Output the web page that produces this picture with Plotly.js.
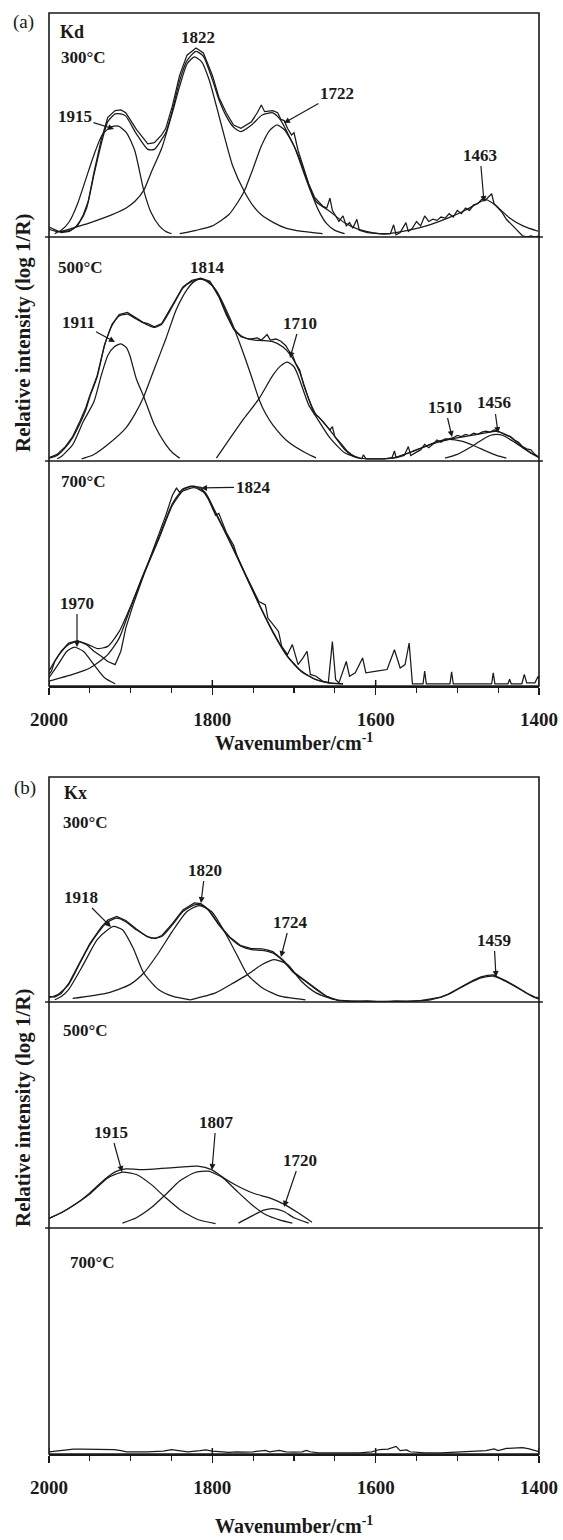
<!DOCTYPE html>
<html><head><meta charset="utf-8">
<script src="https://cdn.plot.ly/plotly-3.0.1.min.js"></script>
<style>html,body{margin:0;padding:0;background:#fff}</style>
</head><body><div id="chart" style="width:563px;height:1540px"></div>
<script>
// ---------- tick labels ----------
const tickVals = [2000, 1800, 1600, 1400];
const tickText = ['2000', '1800', '1600', '1400'];

// ---------- (a) Kd 300 °C ----------
const kd300MeasWn = [2000,1993,1985,1975,1965,1958,1952,1945,1936,1928,
 1919,1912,1906,1893,1879,1871,1862,1857,1849,1840,
 1831,1820,1811,1800,1792,1783,1774,1765,1752,1745,
 1740,1736,1726,1720,1716,1712,1708,1703,1700,1695,
 1688,1682,1675,1670,1665,1660,1656,1653,1648,1645,
 1640,1636,1632,1628,1623,1620,1610,1600,1590,1582,
 1578,1575,1570,1563,1560,1555,1550,1545,1540,1535,
 1530,1525,1520,1515,1510,1505,1500,1495,1490,1485,
 1480,1475,1470,1466,1462,1458,1455,1450,1445,1440,
 1432,1425,1420,1415,1410,1405,1400];
const kd300Meas = [3.5,2.5,1,1.5,4,9,15,28,43,53,
 56,56.3,55,47.5,41,41.5,45,48,58,72,
 81,84.2,82,72,62,55,49.5,48,51,55,
 58.5,55.5,56,55,52,51.5,48,45,46,38,
 30,23,17,15,13,12,16.5,11,8,6,
 8.5,4,5.5,3,7,2,1,0.5,0.3,0.5,
 4.5,0,1,5.5,1.5,3,6,4,8.5,6,
 7,6.5,8,7.5,9.5,8,11,9.5,12,11,
 13.5,14,16,15.5,17,18.5,14,12,10,7,
 4,1,-0.5,-1,-0.5,-1,-0.5];
const kd300FitWn = [2000,1990,1980,1971,1962,1954,1945,1936,1928,1919,
 1912,1906,1893,1879,1871,1862,1857,1849,1840,1831,
 1820,1811,1800,1792,1783,1774,1765,1752,1739,1726,
 1717,1708,1695,1682,1673,1656,1638,1621,1603,1586,
 1577,1555,1533,1511,1489,1471,1465,1454,1436,1419,
 1401];
const kd300Fit = [2.5,1.5,1.5,2.5,6,12,27,41,51,54.5,
 54.5,53.5,45.5,38.5,38.5,43,46,56,69.5,78.5,
 82.7,80.5,70,61,53.5,48.5,46.5,49.5,54,55,
 52,46,36,22.5,15,10.5,5.4,2.4,0.9,0.5,
 0.9,2.4,4.6,7.6,11.3,15,15.8,13.5,7.6,3.9,
 1.6];
const kd300P1915Wn = [1993,1985,1975,1965,1955,1945,1935,1925,1915,1905,1895,1884,1875,1865,1857,1850];
const kd300P1915 = [0.5,2,6,14,25,36,45,48.5,49,46,38,20,10,4,1.5,0.5];
const kd300P1822Wn = [1985,1971,1950,1928,1906,1895,1884,1875,1862,1849,
 1840,1831,1822,1813,1804,1795,1785,1775,1761,1750,
 1740,1725,1710,1690,1665];
const kd300P1822 = [1.5,3,5.4,8.3,12,15,20,28,39,55,
 67,77,80.2,78,70,58,44,31,19.6,13,
 9,5.5,3,1.5,0.5];
const kd300P1722Wn = [1840,1820,1800,1780,1770,1761,1750,1740,1730,1721,1712,1700,1690,1680,1670,1660,1650,1638];
const kd300P1722 = [0.5,2,4,9,14,19.6,30,40,47,49.5,47.5,40,30,20,11,5,2,0.5];

// ---------- (a) Kd 500 °C ----------
const kd500MeasWn = [2000,1990,1980,1971,1962,1955,1950,1941,1932,1923,
 1914,1904,1893,1885,1879,1871,1862,1853,1844,1836,
 1825,1814,1803,1792,1783,1774,1765,1755,1745,1740,
 1733,1729,1722,1716,1710,1706,1702,1698,1693,1688,
 1684,1680,1675,1670,1665,1660,1656,1653,1650,1645,
 1640,1635,1630,1625,1617,1615,1612,1600,1590,1580,
 1577,1575,1565,1560,1557,1550,1545,1540,1535,1530,
 1525,1520,1515,1510,1505,1500,1495,1490,1485,1480,
 1475,1470,1465,1460,1455,1450,1445,1440,1435,1430,
 1425,1420,1415,1410,1405,1400];
const kd500Meas = [0.5,2,5.5,10,17,23,28.5,37.5,51.5,60.5,
 65,66,63.5,61.5,61,59.5,61,66.5,72.5,77.5,
 80.5,81.5,80,73,65,58.5,55,54,54.5,53.5,
 56,53.5,54,53,51,48.5,47,43,40,33,
 29,25,20,19,17,15,13,14.5,10,8,
 5.5,3.5,2,1,0,1.8,0,0,0,0.5,
 3.5,0.5,1.5,5.5,1.5,3,4,6.5,5,6.5,
 8.5,7.5,9,9,9.5,10.5,10,11,10.5,11.5,
 11,12,12.5,12,13,12.5,11.5,10.5,10,8.5,
 7.5,5.5,4.5,4,2,0.5];
const kd500FitWn = [2000,1990,1980,1971,1962,1955,1950,1941,1932,1923,
 1914,1904,1893,1879,1871,1862,1853,1844,1836,1825,
 1814,1803,1792,1783,1774,1765,1752,1739,1726,1713,
 1704,1693,1682,1673,1665,1652,1638,1625,1610,1590,
 1577,1555,1533,1511,1489,1467,1452,1436,1419,1401];
const kd500Fit = [0.3,1.5,5,9.5,16,22,28,37,51,60,
 64.4,65.2,63,60.3,59.2,60.7,66,72,77,80,
 81,79.6,73.4,66,59,55.5,53.7,53.3,52.8,50.3,
 46.6,39,27,20,17,11,4.2,0.7,0,0,
 0.4,3.4,6.4,8.6,10.1,11.6,12.4,10.1,4.9,0.7];
const kd500P1911Wn = [1990,1985,1971,1958,1945,1936,1928,1920,1912,1905,1901,1893,1884,1871,1857,1848,1840];
const kd500P1911 = [0,1,6.4,16.8,25.7,37.6,46.6,50.5,51.8,50,46.6,36,28,15.3,6.4,2.5,0.3];
const kd500P1814Wn = [1960,1956,1945,1928,1906,1895,1884,1871,1857,1844,
 1831,1822,1814,1805,1796,1778,1761,1752,1743,1735,
 1726,1708,1686,1673];
const kd500P1814 = [0,0.4,1.9,6.4,13.8,20,28,40.6,54,67.4,
 76.3,80,81,79.5,76.3,63,46.6,37,27,20.5,
 15.3,7.9,2.7,0.4];
const kd500P1710Wn = [1795,1778,1761,1743,1726,1716,1708,1700,1695,1682,1673,1656,1638,1621];
const kd500P1710 = [0.3,9.4,18.3,27,37.6,42,43.6,41.5,37.6,24.3,19,9.4,2.7,0.4];
const kd500P1510Wn = [1580,1560,1540,1525,1510,1495,1480,1465,1452,1440];
const kd500P1510 = [0.2,2.5,5.5,7.8,8.8,8,6,3.5,1.5,0.3];
const kd500P1456Wn = [1515,1500,1485,1470,1460,1452,1444,1430,1420,1410,1400];
const kd500P1456 = [0.3,2,5,8.5,10.5,11,10.5,7.5,5,2.5,0.8];

// ---------- (a) Kd 700 °C ----------
const kd700MeasWn = [2000,1997,1993,1985,1976,1965,1954,1945,1936,1928,
 1919,1912,1906,1897,1884,1875,1866,1857,1849,1844,
 1840,1836,1827,1814,1805,1796,1792,1783,1774,1770,
 1761,1752,1743,1735,1732,1726,1719,1715,1708,1702,
 1695,1689,1684,1680,1673,1665,1658,1653,1649,1645,
 1636,1632,1625,1616,1612,1599,1586,1577,1570,1564,
 1559,1555,1542,1540,1538,1509,1507,1505,1458,1456,
 1454,1438,1436,1434,1421,1418,1415,1405,1401,1400];
const kd700Meas = [4.2,5.7,10,14.6,18.3,19.3,17.6,14.6,12.4,10,
 8.6,14.6,25,35.4,48.8,57.7,67.4,75.6,84.5,87.8,
 86,87.5,88.7,88.2,83,75.6,76.5,68,62.2,57.7,
 50.3,43.6,36.9,35.4,29.5,26.8,23.5,16.8,13.1,17.6,
 8.6,11.6,14.6,4.2,3.4,1.2,0.4,19,1.8,0.4,
 10,3.4,4.9,11.6,4.9,5.7,6.4,15.3,7.1,8.6,
 18.3,0,0,5.7,0,0,5.4,0,0,4.9,
 0,0,2,0,0,4.2,0.4,0.4,3.4,2];
const kd700FitWn = [2000,1989,1976,1965,1952,1941,1928,1914,1901,1884,
 1866,1849,1836,1822,1809,1796,1778,1761,1743,1726,
 1708,1691,1673,1656,1640];
const kd700Fit = [5.7,12.4,17.6,19,17.6,15.8,16.8,23.5,34,49.6,
 65.2,80.8,87.2,88.7,86,77,63.7,50.3,36,23.5,
 12.4,5.7,1.9,0.4,0];
const kd700P1970Wn = [2000,1989,1978,1969,1958,1945,1932,1919];
const kd700P1970 = [2.7,8.6,14.6,16.4,14.6,8.6,2.7,0];
const kd700P1824Wn = [2000,1971,1950,1928,1914,1901,1884,1866,1849,1836,
 1822,1809,1796,1778,1761,1743,1726,1708,1691,1673,
 1656,1640];
const kd700P1824 = [1.2,4.2,7.1,13.1,20.5,33.2,49,64.5,80,86.5,
 88,85.5,76.5,63.2,50,35.7,23.2,12.2,5.5,1.8,
 0.3,0];

// ---------- (b) Kx 300 °C ----------
const kx300MeasWn = [2000,1993,1985,1976,1963,1950,1936,1928,1917,1906,
 1893,1880,1870,1862,1849,1836,1822,1814,1805,1792,
 1778,1765,1752,1745,1739,1732,1726,1713,1700,1686,
 1673,1660,1647,1630,1610,1590,1575,1560,1545,1533,
 1520,1511,1500,1489,1480,1471,1463,1456,1448,1441,
 1430,1423,1412,1405,1400];
const kx300Meas = [1.5,1.2,2.8,7.2,16.3,25.2,32.6,35.8,37.4,35.6,
 31.8,28.3,27.5,28.8,34.2,40.3,43.5,43.2,40.7,33.8,
 27.9,24.3,23,22.8,22.9,22.3,21.6,17.8,12.3,8.5,
 4.8,1.5,-0.3,-0.8,-0.5,-1,-0.6,-0.8,-0.4,0.3,
 1.2,2.6,4.8,7.2,8.8,10.3,11,11.2,10,8.6,
 6.4,4.8,2.4,1.2,0.8];
const kx300FitWn = [2000,1989,1976,1963,1950,1936,1928,1917,1906,1893,
 1875,1862,1849,1836,1822,1814,1805,1792,1778,1765,
 1752,1739,1726,1713,1700,1686,1673,1660,1647,1621,
 1577,1533,1511,1489,1471,1456,1441,1423,1405,1400];
const kx300Fit = [0.9,2.4,6.8,15.8,24.7,32,35,36.6,35,31.4,
 27.7,28.4,33.6,39.6,42.6,42.6,40.3,33.6,27.7,24,
 22.5,22.2,21,17.3,12,8.3,4.6,1.6,0,-0.6,
 -0.6,0,2.4,6.8,9.8,10.6,8.3,4.6,0.9,0.3];
const kx300P1918Wn = [1993,1985,1976,1958,1941,1928,1921,1910,1897,1884,1866,1849,1827];
const kx300P1918 = [0,1.5,4.6,15.8,27,31.4,32.9,31.4,23.2,12,4.6,1.6,0];
const kx300P1820Wn = [1971,1928,1901,1884,1866,1849,1831,1816,1801,1783,1770,1757,1739,1717,1686];
const kx300P1820 = [0.6,3.1,6.8,12,21,30.7,39.6,42.3,39.6,29.2,20.2,11.3,5.4,1.6,0];
const kx300P1724Wn = [1827,1796,1774,1757,1739,1724,1708,1691,1673,1651];
const kx300P1724 = [0,3.1,7.6,11.3,15.8,18,15.8,8.3,3.1,0];

// ---------- (b) Kx 500 °C ----------
const kx500FitWn = [2000,1985,1967,1950,1932,1919,1906,1884,1862,1840,
 1818,1801,1783,1765,1748,1730,1713,1695,1678];
const kx500Fit = [3.3,5.8,9.8,14.7,20.7,24.1,25.4,25.1,25.6,26.2,
 26.6,25.1,20.7,17,14.3,12.5,9.8,5.8,1.6];
const kx500P1915Wn = [2000,1985,1967,1950,1928,1910,1893,1875,1857,1840,1818,1796];
const kx500P1915 = [3.3,5.8,9.8,14.2,21.4,24,22.9,18.5,12.5,7.3,2.8,1];
const kx500P1807Wn = [1910,1893,1875,1857,1840,1822,1805,1787,1770,1752,1735,1717,1702];
const kx500P1807 = [1.2,3.6,8,14,20,23.7,24.4,21.4,15.5,9.5,5,2.5,1.2];
const kx500P1720Wn = [1768,1752,1737,1726,1713,1700,1682];
const kx500P1720 = [1.2,4.3,7,7.7,6.5,3.6,1.2];

// ---------- (b) Kx 700 °C ----------
const kx700MeasWn = [2000,1990,1980,1970,1960,1950,1940,1930,1920,1912,
 1905,1880,1860,1850,1845,1840,1830,1815,1808,1800,
 1790,1780,1770,1760,1750,1735,1730,1718,1710,1700,
 1690,1685,1680,1670,1650,1620,1605,1595,1585,1575,
 1570,1562,1558,1550,1540,1520,1500,1480,1465,1455,
 1450,1440,1430,1420,1412,1405,1400];
const kx700Meas = [0,0.5,1,1.2,1.2,1.2,1.2,1.1,1,0.5,
 0,0,0.3,1,0.8,0.5,0,0.5,0.8,0.3,
 0,-0.3,0,-0.2,0,0.6,0,0.6,0,-0.2,
 0,0.6,0,-0.5,-0.5,-0.5,0,1,1.2,2.4,
 0.5,0.8,0,-0.3,-0.5,-0.5,-0.2,0,0.5,1.3,
 0.5,1.5,1.6,1.8,1.3,0.5,0];

// ---------- layout helpers (pixel geometry) ----------
const L = 49, R = 539, T = 13, B = 1454;
const fx = p => (p - L) / (R - L);
const fy = p => (B - p) / (B - T);
const FONT = 'Liberation Serif, Times New Roman, serif';
const INK = '#1a1a1a';

function tr(x, y, xa, ya, smooth) {
  const line = {color: INK, width: 1.25};
  if (smooth) { line.shape = 'spline'; line.smoothing = 0.6; }
  return {x: x, y: y, xaxis: xa, yaxis: ya, type: 'scatter', mode: 'lines',
          line: line, hoverinfo: 'skip', showlegend: false};
}

const data = [
  tr(kd300MeasWn, kd300Meas, 'x', 'y', false),
  tr(kd300FitWn, kd300Fit, 'x', 'y', true),
  tr(kd300P1915Wn, kd300P1915, 'x', 'y', true),
  tr(kd300P1822Wn, kd300P1822, 'x', 'y', true),
  tr(kd300P1722Wn, kd300P1722, 'x', 'y', true),

  tr(kd500MeasWn, kd500Meas, 'x', 'y2', false),
  tr(kd500FitWn, kd500Fit, 'x', 'y2', true),
  tr(kd500P1911Wn, kd500P1911, 'x', 'y2', true),
  tr(kd500P1814Wn, kd500P1814, 'x', 'y2', true),
  tr(kd500P1710Wn, kd500P1710, 'x', 'y2', true),
  tr(kd500P1510Wn, kd500P1510, 'x', 'y2', true),
  tr(kd500P1456Wn, kd500P1456, 'x', 'y2', true),

  tr(kd700MeasWn, kd700Meas, 'x', 'y3', false),
  tr(kd700FitWn, kd700Fit, 'x', 'y3', true),
  tr(kd700P1970Wn, kd700P1970, 'x', 'y3', true),
  tr(kd700P1824Wn, kd700P1824, 'x', 'y3', true),

  tr(kx300MeasWn, kx300Meas, 'x2', 'y4', false),
  tr(kx300FitWn, kx300Fit, 'x2', 'y4', true),
  tr(kx300P1918Wn, kx300P1918, 'x2', 'y4', true),
  tr(kx300P1820Wn, kx300P1820, 'x2', 'y4', true),
  tr(kx300P1724Wn, kx300P1724, 'x2', 'y4', true),

  tr(kx500FitWn, kx500Fit, 'x2', 'y5', true),
  tr(kx500P1915Wn, kx500P1915, 'x2', 'y5', true),
  tr(kx500P1807Wn, kx500P1807, 'x2', 'y5', true),
  tr(kx500P1720Wn, kx500P1720, 'x2', 'y5', true),

  tr(kx700MeasWn, kx700Meas, 'x2', 'y6', false)
];

function xAxis(anchor) {
  return {
    domain: [0, 1], range: [2000, 1400], anchor: anchor,
    showline: true, linecolor: INK, linewidth: 1.6,
    showgrid: false, zeroline: false,
    ticks: 'outside', ticklen: 7, tickwidth: 1.5, tickcolor: INK,
    tickmode: 'array', tickvals: tickVals, ticktext: tickText,
    minor: {ticks: 'outside', ticklen: 5, tickwidth: 1.3, tickcolor: INK, dtick: 50, tick0: 2000, showgrid: false},
    tickfont: {family: FONT, size: 19, color: INK, weight: 'bold'},
    ticklabelstandoff: 9,
    fixedrange: true
  };
}
function yAxis(top, bottom, anchor) {
  return {domain: [fy(bottom), fy(top)], range: [-1, 100], visible: false, anchor: anchor,
          showgrid: false, zeroline: false, fixedrange: true};
}

const shapes = [];
// outer frames
[[13, 686], [777, 1454]].forEach(f => {
  shapes.push({type: 'rect', xref: 'paper', yref: 'paper', x0: 0, x1: 1, y0: fy(f[1]), y1: fy(f[0]),
               line: {color: INK, width: 1.6}});
});
// separators between stacked spectra
[237, 461, 1002, 1228].forEach(p => {
  shapes.push({type: 'line', xref: 'paper', yref: 'paper', x0: -0.008, x1: 1.008, y0: fy(p), y1: fy(p),
               line: {color: INK, width: 1.5}});
});
// major ticks also cross the axis line upward
[['x', 686], ['x2', 1454]].forEach(a => {
  tickVals.forEach(v => {
    shapes.push({type: 'line', xref: a[0], yref: 'paper', x0: v, x1: v, y0: fy(a[1]), y1: fy(a[1] - 6),
                 line: {color: INK, width: 1.5}});
  });
});

const ann = [];
function txt(text, cx, cy, size, bold) {
  ann.push({xref: 'paper', yref: 'paper', x: fx(cx), y: fy(cy), text: bold ? '<b>' + text + '</b>' : text,
            showarrow: false, xanchor: 'center', yanchor: 'middle',
            font: {family: FONT, size: size, color: INK}});
}
function arr(text, cx, cy, hx, hy) {
  ann.push({xref: 'paper', yref: 'paper', x: fx(hx), y: fy(hy), ax: cx - hx, ay: cy - hy,
            text: '<b>' + text + '</b>', showarrow: true, arrowhead: 2, arrowsize: 1, arrowwidth: 1.2,
            arrowcolor: INK, standoff: 0, startstandoff: 0,
            font: {family: FONT, size: 17, color: INK}});
}

// panel letters, sample names, temperatures
txt('(a)', 23, 22, 19, false);
txt('(b)', 25, 788, 19, false);
txt('Kd', 72, 32, 18, true);
txt('Kx', 75, 793, 18, true);
txt('300°C', 83, 58, 17, true);
txt('500°C', 80, 267, 17, true);
txt('700°C', 83, 482, 17, true);
txt('300°C', 85, 822, 17, true);
txt('500°C', 85, 1030, 17, true);
txt('700°C', 92, 1262, 17, true);

// peak labels (a)
arr('1915', 75, 117, 114, 129);
txt('1822', 198, 38, 17, true);
arr('1722', 337, 93, 284, 123);
arr('1463', 480, 155, 484, 202);
txt('1814', 207, 267, 17, true);
arr('1911', 78, 322, 115, 342);
arr('1710', 300, 323, 290, 358);
arr('1510', 445, 407, 452, 437);
arr('1456', 494, 403, 498, 433);
arr('1824', 253, 487, 201, 488);
arr('1970', 77, 603, 77, 647);
// peak labels (b)
arr('1918', 81, 897, 111, 927);
arr('1820', 205, 870, 201, 903);
arr('1724', 290, 922, 281, 957);
arr('1459', 494, 940, 496, 977);
arr('1915', 111, 1132, 122, 1172);
arr('1807', 216, 1122, 212, 1170);
arr('1720', 300, 1160, 284, 1207);

// axis titles
txt('Wavenumber/cm<sup>-1</sup>', 294, 742, 20, true);
txt('Wavenumber/cm<sup>-1</sup>', 294, 1525, 20, true);
ann.push({xref: 'paper', yref: 'paper', x: fx(23), y: fy(333), text: '<b>Relative intensity (log 1/R)</b>',
          textangle: -90, showarrow: false, xanchor: 'center', yanchor: 'middle',
          font: {family: FONT, size: 21, color: INK}});
ann.push({xref: 'paper', yref: 'paper', x: fx(23), y: fy(1108), text: '<b>Relative intensity (log 1/R)</b>',
          textangle: -90, showarrow: false, xanchor: 'center', yanchor: 'middle',
          font: {family: FONT, size: 21, color: INK}});

const layout = {
  width: 563, height: 1540,
  margin: {l: L, r: 563 - R, t: T, b: 1540 - B, pad: 0},
  paper_bgcolor: '#ffffff', plot_bgcolor: 'rgba(0,0,0,0)',
  showlegend: false,
  xaxis: xAxis('y3'),
  xaxis2: xAxis('y6'),
  yaxis: yAxis(13, 237, 'x'),
  yaxis2: yAxis(237, 461, 'x'),
  yaxis3: yAxis(461, 686, 'x'),
  yaxis4: yAxis(777, 1002, 'x2'),
  yaxis5: yAxis(1002, 1228, 'x2'),
  yaxis6: yAxis(1228, 1454, 'x2'),
  shapes: shapes,
  annotations: ann,
  font: {family: FONT, color: INK}
};

Plotly.newPlot('chart', data, layout, {displayModeBar: false, staticPlot: true});
</script>
</body></html>
